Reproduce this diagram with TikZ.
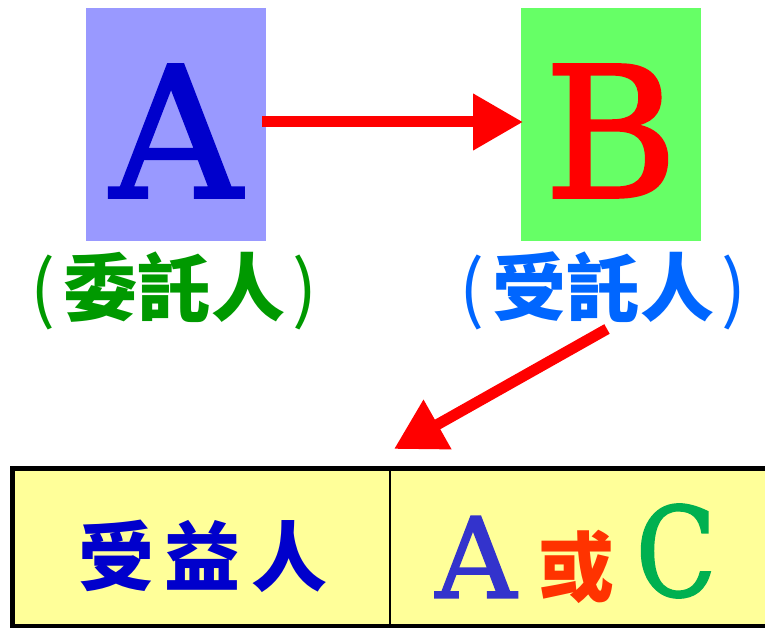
\documentclass[tikz,border=0pt]{standalone}
\usepackage{fontspec}
\setmainfont{DejaVu Serif}
\newfontfamily\heavyserif{DejaVu Serif}[FakeBold=1.6]
\newfontfamily\cjk{Noto Sans CJK TC}
\usetikzlibrary{arrows.meta}
\definecolor{boxA}{HTML}{9999FF}
\definecolor{boxB}{HTML}{66FF66}
\definecolor{txtA}{HTML}{0000CC}
\definecolor{txtB}{HTML}{FF0000}
\definecolor{lblA}{HTML}{009900}
\definecolor{lblB}{HTML}{0066FF}
\definecolor{tabfill}{HTML}{FFFF99}
\definecolor{tA}{HTML}{3333CC}
\definecolor{tOr}{HTML}{FF3300}
\definecolor{tC}{HTML}{00B050}
\definecolor{arrowred}{HTML}{FF0000}
\tikzset{
  letterbox/.style={minimum width=180pt, minimum height=233pt, inner sep=0pt, draw=none},
  bigletter/.style={font=\heavyserif\fontsize{182}{182}\selectfont},
  cjklabel/.style={font=\cjk\bfseries\fontsize{74}{74}\selectfont, inner sep=0pt},
  redarrow/.style={draw=arrowred, line width=11pt, -{Triangle[length=50pt,width=54pt]}},
}
\begin{document}
\begin{tikzpicture}[x=1pt,y=1pt]
\useasboundingbox (0,0) rectangle (765,-628);
% boxes
\node[letterbox, fill=boxA] (A) at (176,-124.5) {};
\node[bigletter, text=txtA] (Atext) at (176,-131) {A};
\node[letterbox, fill=boxB] (B) at (611,-124.5) {};
\node[bigletter, text=txtB] (Btext) at (611,-131) {B};
% labels
\node[cjklabel, text=lblA] (Alabel) at (174,-291) {{\mdseries(}\kern7pt 委託人\kern7pt{\mdseries)}};
\node[cjklabel, text=lblB] (Blabel) at (603,-291) {{\mdseries(}\kern7pt 受託人\kern7pt{\mdseries)}};
% table
\coordinate (tl) at (12,-468.5);
\coordinate (br) at (800,-626);
\path[fill=tabfill, draw=black, line width=5pt] (tl) rectangle (br);
\coordinate (dtop) at (390,-468.5);
\coordinate (dbot) at (390,-626);
\draw[line width=2pt] (dtop) -- (dbot);
\node[font=\cjk\bfseries\fontsize{76}{76}\selectfont, text=txtA, inner sep=0pt] (ben) at (203,-556) {受\hspace{11pt}益\hspace{11pt}人};
\node[font=\heavyserif\fontsize{112}{112}\selectfont, text=tA, inner sep=0pt] (tAn) at (476,-557) {A};
\node[font=\cjk\bfseries\fontsize{76}{76}\selectfont, text=tOr, inner sep=0pt] (orn) at (576,-567) {或};
\node[font=\heavyserif\fontsize{124}{124}\selectfont, text=tC, inner sep=0pt, xscale=0.85, transform shape] (tCn) at (676,-551) {C};
% arrows
\coordinate (a1s) at (262,-122);
\coordinate (a1e) at (523,-122);
\draw[redarrow] (a1s) -- (a1e);
\coordinate (a2s) at (607,-329);
\coordinate (a2e) at (394,-449);
\draw[redarrow] (a2s) -- (a2e);
\end{tikzpicture}
\end{document}
